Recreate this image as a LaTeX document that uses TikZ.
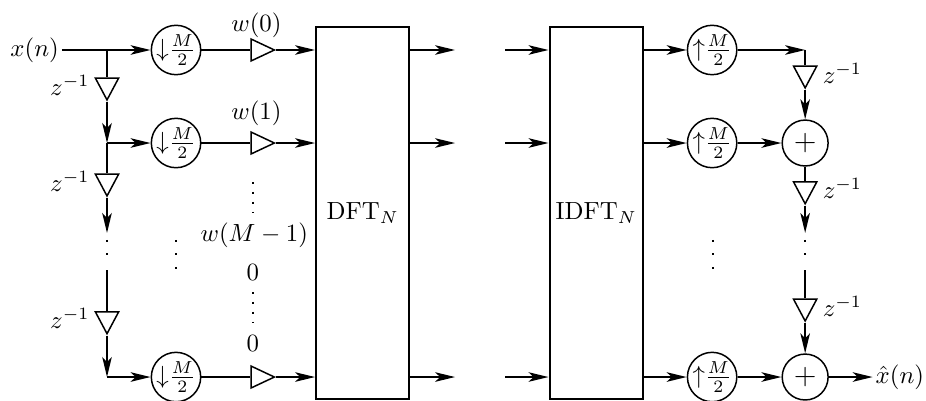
\documentclass[tikz,border=0pt]{standalone}
\usepackage{tikz}
\usetikzlibrary{arrows.meta,shapes.geometric,positioning}

\tikzset{
    sig/.style={line width=1pt,-{Stealth[length=8pt,width=3.8pt,inset=2pt]}},
    wire/.style={line width=1pt},
    rate/.style={circle,draw,semithick,minimum size=0.68cm,inner sep=0pt},
    adder/.style={circle,draw,semithick,minimum size=0.65cm,inner sep=0pt},
    dly/.style={isosceles triangle,isosceles triangle stretches,draw,semithick,fill=white,inner sep=0pt,
        minimum width=0.33cm,minimum height=0.31cm,shape border rotate=270},
    gain/.style={isosceles triangle,isosceles triangle stretches,draw,semithick,inner sep=0pt,
        minimum width=0.31cm,minimum height=0.33cm},
    tbox/.style={draw,thick,minimum width=1.32cm,minimum height=5.268cm,inner sep=0pt},
    dotcol/.style={line width=0.8pt,dash pattern=on 0.8pt off 4.6pt},
    dotw/.style={line width=0.8pt,dash pattern=on 0.8pt off 3.2pt},
    lbl/.style={inner sep=1pt}
}

\begin{document}
\begin{tikzpicture}
    \useasboundingbox (0,0) rectangle (13.11,5.664);

    % analysis side
    \node[lbl] (xn) at (0.49,4.956) {$x(n)$};
    \coordinate (t1) at (1.515,4.956);
    \coordinate (t2) at (1.515,3.639);
    \coordinate (t3) at (1.515,0.326);
    \coordinate (e1) at (1.515,2.365);
    \coordinate (f1) at (1.515,2.266);
    \coordinate (f2) at (1.515,1.89);
    \coordinate (f3) at (1.515,1.84);

    \node[dly] (d1) at (1.515,4.46) {};
    \node[dly] (d2) at (1.515,3.10) {};
    \node[dly] (d3) at (1.515,1.15) {};
    \node[left=0pt of d1] (zd1) {$z^{-1}$};
    \node[left=0pt of d2] (zd2) {$z^{-1}$};
    \node[left=0pt of d3] (zd3) {$z^{-1}$};

    \node[rate] (dn1) at (2.492,4.956) {${\downarrow}\frac{M}{2}$};
    \node[rate] (dn2) at (2.492,3.639) {${\downarrow}\frac{M}{2}$};
    \node[rate] (dn3) at (2.492,0.326) {${\downarrow}\frac{M}{2}$};

    \node[gain] (g1) at (3.653,4.956) {};
    \node[gain] (g2) at (3.653,3.639) {};
    \node[gain] (g3) at (3.653,0.326) {};

    \node (w0) at (3.63,5.31) {$w(0)$};
    \node (w1) at (3.63,4.064) {$w(1)$};
    \node (wm) at (3.6,2.336) {$w(M-1)$};
    \node (z0) at (3.58,1.812) {$0$};
    \node (z1) at (3.58,0.807) {$0$};

    \node[tbox] (dft) at (5.135,2.648) {$\mathrm{DFT}_N$};
    \node[tbox] (idft) at (8.44,2.648) {$\mathrm{IDFT}_N$};

    \draw[sig] (xn.east) -- (dn1);
    \draw[wire] (t1) -- (d1.north);
    \draw[sig] (d1.apex) -- (t2);
    \draw[sig] (t2) -- (dn2);
    \draw[wire] (t2) -- (d2.north);
    \draw[sig] (d2.apex) -- (e1);
    \draw[dotcol] (f1) -- (f2);
    \draw[wire] (f3) -- (d3.north);
    \draw[sig] (d3.apex) -- (t3);
    \draw[sig] (t3) -- (dn3);

    \draw[wire] (dn1) -- (g1.west);
    \draw[wire] (dn2) -- (g2.west);
    \draw[wire] (dn3) -- (g3.west);
    \draw[sig] (g1.apex) -- (dft.west |- g1);
    \draw[sig] (g2.apex) -- (dft.west |- g2);
    \draw[sig] (g3.apex) -- (dft.west |- g3);

    \draw[dotcol] (2.492,2.266) -- (2.492,1.85);
    \draw[dotw] (3.58,3.087) -- (3.58,2.66);
    \draw[dotw] (3.58,1.529) -- (3.58,1.10);

    % between the transforms
    \foreach \r in {4.956,3.639,0.326} {
        \draw[sig] (dft.east |- 0,\r) -- (6.443,\r);
        \draw[sig] (7.151,\r) -- (idft.west |- 0,\r);
    }

    % synthesis side
    \node[rate] (up1) at (10.082,4.956) {${\uparrow}\frac{M}{2}$};
    \node[rate] (up2) at (10.082,3.639) {${\uparrow}\frac{M}{2}$};
    \node[rate] (up3) at (10.082,0.326) {${\uparrow}\frac{M}{2}$};

    \coordinate (c1) at (11.399,4.956);
    \coordinate (h1) at (11.399,2.365);
    \coordinate (h2) at (11.399,2.266);
    \coordinate (h3) at (11.399,1.89);
    \coordinate (h4) at (11.399,1.84);

    \node[dly] (r1) at (11.399,4.63) {};
    \node[adder] (a1) at (11.399,3.639) {\large$+$};
    \node[dly] (r2) at (11.399,2.99) {};
    \node[dly] (r3) at (11.399,1.33) {};
    \node[adder] (a2) at (11.399,0.326) {\large$+$};
    \node[right=0pt of r1] (zr1) {$z^{-1}$};
    \node[right=0pt of r2] (zr2) {$z^{-1}$};
    \node[right=0pt of r3] (zr3) {$z^{-1}$};
    \node[lbl] (xh) at (12.74,0.326) {$\hat{x}(n)$};

    \draw[sig] (idft.east |- up1) -- (up1);
    \draw[sig] (idft.east |- up2) -- (up2);
    \draw[sig] (idft.east |- up3) -- (up3);
    \draw[sig] (up1) -- (c1);
    \draw[wire] (c1) -- (r1.north);
    \draw[sig] (r1.apex) -- (a1);
    \draw[sig] (up2) -- (a1);
    \draw[wire] (a1) -- (r2.north);
    \draw[sig] (r2.apex) -- (h1);
    \draw[dotcol] (h2) -- (h3);
    \draw[wire] (h4) -- (r3.north);
    \draw[sig] (r3.apex) -- (a2);
    \draw[sig] (up3) -- (a2);
    \draw[sig] (a2) -- (xh.west);

    \draw[dotcol] (10.096,2.266) -- (10.096,1.85);
\end{tikzpicture}
\end{document}
